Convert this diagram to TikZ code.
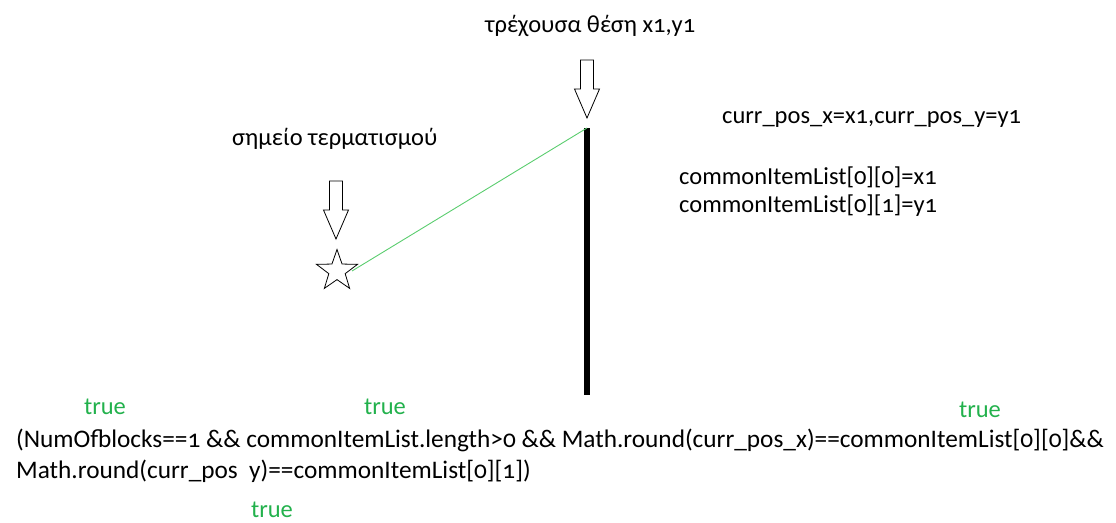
\documentclass[tikz,border=0pt]{standalone}
\usepackage{fontspec}
\setmainfont{Carlito}[Numbers=OldStyle]
\usetikzlibrary{shapes.geometric}
\definecolor{truegreen}{RGB}{34,177,76}
\definecolor{pathgreen}{RGB}{90,205,110}

\tikzset{
  lbl/.style={anchor=base west, inner sep=0pt, font=\fontsize{24.5}{28}\selectfont},
  code/.style={lbl, font=\fontsize{25.3}{30}\selectfont},
  flag/.style={anchor=base, inner sep=0pt, text=truegreen, font=\fontsize{24.5}{28}\selectfont},
  hollow/.style={draw=black, fill=white, line width=0.8pt, line join=miter},
  downarr/.pic={
    \draw[hollow] (-6.5,-58) -- (6.5,-58) -- (6.5,-29) -- (12.5,-29) -- (0,0)
                  -- (-12.5,-29) -- (-6.5,-29) -- cycle;
  },
  goalstar/.style={draw=black, fill=white, line width=0.8pt, shape=star, star points=5,
                   star point ratio=2.5, minimum size=43pt, inner sep=0pt}
}

\begin{document}
\begin{tikzpicture}[x=1pt, y=-1pt]
\useasboundingbox (0,0) rectangle (1116,522);

% current position: label, pointer and the wall segment
\node[lbl] (curlbl) at (485,32) {τρέχουσα θέση x1,y1};
\pic at (587,118) {downarr};
\coordinate (cur) at (587,128);
\coordinate (wallend) at (587,395);
\draw[line width=6pt] (cur) -- (wallend);

% end point: label, pointer and star
\node[lbl] (goallbl) at (232,145) {σημείο τερματισμού};
\pic at (336,239) {downarr};
\node[goalstar] (goal) at (337,271) {};
\coordinate (goalside) at (352,271);
\draw[pathgreen, line width=0.9pt] (goalside) -- (cur);

% assignments
\node[lbl] (assign) at (722,123) {curr\_pos\_x=x1,curr\_pos\_y=y1};
\node[lbl] (listx) at (679,184) {commonItemList[0][0]=x1};
\node[lbl] (listy) at (679,212) {commonItemList[0][1]=y1};

% condition and its evaluated parts
\node[code] (cond1) at (16,447) {(NumOfblocks==1 \&\& commonItemList.length>0 \&\& Math.round(curr\_pos\_x)==commonItemList[0][0]\&\&};
\node[code] (cond2) at (16,478) {Math.round(curr\_pos\hspace{0.45em}y)==commonItemList[0][1])};
\node[flag] (t1) at (105,414) {true};
\node[flag] (t2) at (385,414) {true};
\node[flag] (t3) at (980,417) {true};
\node[flag] (t4) at (272,517) {true};
\end{tikzpicture}
\end{document}
